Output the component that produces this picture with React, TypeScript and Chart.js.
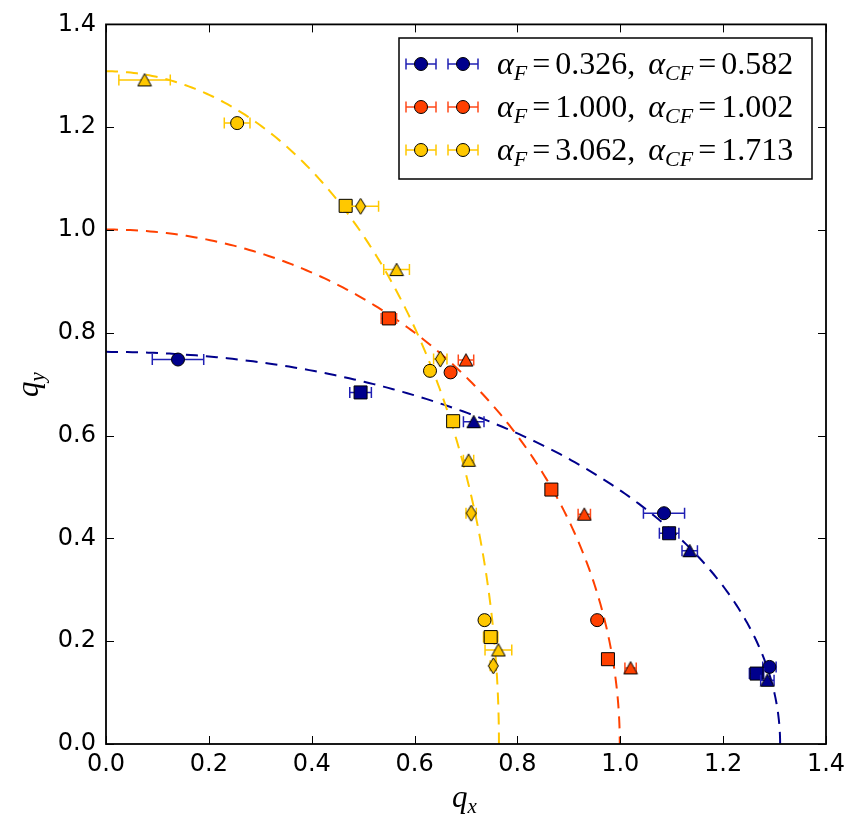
import React, { useEffect, useRef } from 'react';
import { Chart, registerables } from 'chart.js';

Chart.register(...registerables);

// Fit parameters shown in the legend, one entry per series
const ALPHA_F = [0.326, 1.0, 3.062];
const ALPHA_CF = [0.582, 1.002, 1.713];

const FILL_COLORS = ['#00008c', '#ff4000', '#ffc800'];
const ERR_COLORS = ['#2020b4', '#ff4a1a', '#ffc800'];

// Measurements: [qx, qy, xerr]
const blueCircles = [[0.140, 0.748, 0.050], [1.085, 0.449, 0.040], [1.290, 0.150, 0.013]];
const blueSquares = [[0.495, 0.684, 0.021], [1.095, 0.410, 0.019], [1.265, 0.137, 0.014]];
const blueTriangles = [[0.715, 0.627, 0.020], [1.135, 0.376, 0.015], [1.286, 0.124, 0.013]];

const redCircles = [[0.670, 0.723, 0.004], [0.955, 0.241, 0.004]];
const redSquares = [[0.550, 0.828, 0.015], [0.866, 0.495, 0.005], [0.976, 0.165, 0.005]];
const redTriangles = [[0.700, 0.747, 0.015], [0.930, 0.447, 0.012], [1.020, 0.148, 0.011]];

const yellowCircles = [[0.255, 1.208, 0.025], [0.630, 0.726, 0.008], [0.736, 0.241, 0.006]];
const yellowSquares = [[0.466, 1.047, 0.008], [0.675, 0.628, 0.008], [0.748, 0.208, 0.014]];
const yellowTriangles = [[0.075, 1.292, 0.050], [0.565, 0.923, 0.025], [0.705, 0.552, 0.010], [0.763, 0.183, 0.026]];
const yellowDiamonds = [[0.495, 1.046, 0.035], [0.650, 0.749, 0.013], [0.710, 0.449, 0.010], [0.753, 0.152, 0.006]];

const TICKS = [0, 0.2, 0.4, 0.6, 0.8, 1.0, 1.2, 1.4];

// Elliptic contour with aspect ratio alpha_CF and unit area product
function contour(acf: number) {
  const a = 1 / Math.sqrt(acf);
  const b = Math.sqrt(acf);
  const pts: { x: number; y: number }[] = [];
  const n = 200;
  for (let i = 0; i <= n; i++) {
    const t = (Math.PI / 2) * (i / n);
    pts.push({ x: a * Math.sin(t), y: b * Math.cos(t) });
  }
  return pts;
}

function makeMarker(shape: 'triangle' | 'diamond', fill: string): HTMLCanvasElement {
  const c = document.createElement('canvas');
  const w = shape === 'triangle' ? 16 : 13;
  const h = shape === 'triangle' ? 15 : 18;
  c.width = w;
  c.height = h;
  const g = c.getContext('2d')!;
  g.beginPath();
  if (shape === 'triangle') {
    g.moveTo(w / 2, 1.2);
    g.lineTo(w - 1.2, h - 1.5);
    g.lineTo(1.2, h - 1.5);
  } else {
    g.moveTo(w / 2, 1);
    g.lineTo(w - 1.5, h / 2);
    g.lineTo(w / 2, h - 1);
    g.lineTo(1.5, h / 2);
  }
  g.closePath();
  g.fillStyle = fill;
  g.fill();
  g.lineWidth = 1;
  g.strokeStyle = '#000';
  g.stroke();
  return c;
}

type Part = { t: string; it?: boolean; sub?: boolean; gap?: number };

function drawMath(ctx: CanvasRenderingContext2D, x: number, y: number, parts: Part[], size = 32, subSize = 22) {
  let cx = x;
  for (const p of parts) {
    cx += p.gap || 0;
    const s = p.sub ? subSize : size;
    ctx.font = `${p.it ? 'italic ' : ''}${s}px "Liberation Serif"`;
    ctx.fillText(p.t, cx, p.sub ? y + 6 : y);
    cx += ctx.measureText(p.t).width;
  }
}

function legendParts(af: number, acf: number): Part[] {
  return [
    { t: 'α', it: true },
    { t: 'F', it: true, sub: true },
    { t: '=', gap: 5 },
    { t: af.toFixed(3) + ',', gap: 5 },
    { t: 'α', it: true, gap: 13 },
    { t: 'CF', it: true, sub: true },
    { t: '=', gap: 5 },
    { t: acf.toFixed(3), gap: 5 },
  ];
}

export default function App() {
  const ref = useRef<HTMLCanvasElement>(null);

  useEffect(() => {
    document.body.style.margin = '0';
    const canvas = ref.current!;

    const groups = [
      [blueCircles, blueSquares, blueTriangles, null],
      [redCircles, redSquares, redTriangles, null],
      [yellowCircles, yellowSquares, yellowTriangles, yellowDiamonds],
    ];

    const drawList: any[] = [];
    ALPHA_CF.forEach((acf, i) => {
      drawList.push({
        type: 'line',
        data: contour(acf),
        borderColor: FILL_COLORS[i],
        borderWidth: 2,
        borderDash: [12, 8],
        pointRadius: 0,
        fill: false,
        tension: 0,
      });
    });
    groups.forEach((g, i) => {
      const fill = FILL_COLORS[i];
      const styles: any[] = [
        { pointStyle: 'circle', pointRadius: 6.5 },
        { pointStyle: 'rect', pointRadius: 9.2 },
        { pointStyle: makeMarker('triangle', fill), pointRadius: 8 },
        { pointStyle: makeMarker('diamond', fill), pointRadius: 8 },
      ];
      g.forEach((arr, k) => {
        if (!arr) return;
        drawList.push({
          type: 'scatter',
          data: arr.map(([x, y]) => ({ x, y })),
          xerr: arr.map((r) => r[2]),
          errColor: ERR_COLORS[i],
          backgroundColor: fill,
          borderColor: '#000',
          borderWidth: 1,
          pointStyle: styles[k].pointStyle,
          pointRadius: styles[k].pointRadius,
          pointHoverRadius: styles[k].pointRadius,
          showLine: false,
        });
      });
    });
    const datasets = drawList.map((d, i) => ({ ...d, order: 1000 - i }));

    const errorBars = {
      id: 'errorBars',
      beforeDatasetDraw(chart: any, args: any) {
        const ds = chart.data.datasets[args.index];
        if (!ds.xerr) return;
        const { ctx, chartArea: a } = chart;
        const xs = chart.scales.x;
        const ys = chart.scales.y;
        ctx.save();
        ctx.beginPath();
        ctx.rect(a.left, a.top, a.right - a.left, a.bottom - a.top);
        ctx.clip();
        ctx.strokeStyle = ds.errColor;
        ctx.lineWidth = 1.5;
        ds.data.forEach((p: any, j: number) => {
          const e = ds.xerr[j];
          const x1 = xs.getPixelForValue(p.x - e);
          const x2 = xs.getPixelForValue(p.x + e);
          const py = ys.getPixelForValue(p.y);
          ctx.beginPath();
          ctx.moveTo(x1, py);
          ctx.lineTo(x2, py);
          ctx.moveTo(x1, py - 5.5);
          ctx.lineTo(x1, py + 5.5);
          ctx.moveTo(x2, py - 5.5);
          ctx.lineTo(x2, py + 5.5);
          ctx.stroke();
        });
        ctx.restore();
      },
    };

    const frame = {
      id: 'frame',
      afterDatasetsDraw(chart: any) {
        const { ctx, chartArea: a } = chart;
        const xs = chart.scales.x;
        const ys = chart.scales.y;
        ctx.save();
        ctx.strokeStyle = '#000';
        ctx.lineWidth = 1;
        const L = 8;
        ctx.beginPath();
        TICKS.forEach((v) => {
          const px = Math.round(xs.getPixelForValue(v)) + 0.5;
          ctx.moveTo(px, a.bottom);
          ctx.lineTo(px, a.bottom - L);
          ctx.moveTo(px, a.top);
          ctx.lineTo(px, a.top + L);
          const py = Math.round(ys.getPixelForValue(v)) + 0.5;
          ctx.moveTo(a.left, py);
          ctx.lineTo(a.left + L, py);
          ctx.moveTo(a.right, py);
          ctx.lineTo(a.right - L, py);
        });
        ctx.stroke();
        ctx.lineWidth = 1.8;
        ctx.strokeRect(a.left, a.top, a.right - a.left, a.bottom - a.top);

        // axis titles
        ctx.fillStyle = '#000';
        ctx.textBaseline = 'alphabetic';
        ctx.textAlign = 'left';
        drawMath(ctx, 452, 807, [{ t: 'q', it: true }, { t: 'x', it: true, sub: true }], 31, 21);
        ctx.save();
        ctx.translate(38, 397);
        ctx.rotate(-Math.PI / 2);
        drawMath(ctx, 0, 0, [{ t: 'q', it: true }, { t: 'y', it: true, sub: true }], 31, 21);
        ctx.restore();
        ctx.restore();
      },
    };

    const legendBox = {
      id: 'legendBox',
      afterDraw(chart: any) {
        const { ctx } = chart;
        ctx.save();
        ctx.fillStyle = '#fff';
        ctx.fillRect(399, 38, 413, 141);
        ctx.strokeStyle = '#000';
        ctx.lineWidth = 1.5;
        ctx.strokeRect(399, 38, 413, 141);
        const rows = [64, 107, 150];
        rows.forEach((ry, i) => {
          [421, 463].forEach((mx) => {
            ctx.strokeStyle = ERR_COLORS[i];
            ctx.lineWidth = 1.5;
            ctx.beginPath();
            ctx.moveTo(mx - 15, ry);
            ctx.lineTo(mx + 15, ry);
            ctx.moveTo(mx - 15, ry - 5.5);
            ctx.lineTo(mx - 15, ry + 5.5);
            ctx.moveTo(mx + 15, ry - 5.5);
            ctx.lineTo(mx + 15, ry + 5.5);
            ctx.stroke();
            ctx.beginPath();
            ctx.arc(mx, ry, 6.5, 0, Math.PI * 2);
            ctx.fillStyle = FILL_COLORS[i];
            ctx.fill();
            ctx.strokeStyle = '#000';
            ctx.lineWidth = 1;
            ctx.stroke();
          });
          ctx.fillStyle = '#000';
          ctx.textBaseline = 'alphabetic';
          ctx.textAlign = 'left';
          drawMath(ctx, 497, ry + 10, legendParts(ALPHA_F[i], ALPHA_CF[i]));
        });
        ctx.restore();
      },
    };

    const tickFont = { family: '"DejaVu Sans"', size: 24 };
    const chart = new Chart(canvas, {
      type: 'scatter',
      data: { datasets },
      options: {
        responsive: false,
        animation: false,
        events: [],
        layout: { padding: { left: 0, top: 24, right: 35, bottom: 0 } },
        plugins: { legend: { display: false }, tooltip: { enabled: false }, title: { display: false } },
        scales: {
          x: {
            type: 'linear',
            min: 0,
            max: 1.4,
            border: { display: false },
            grid: { display: false, drawTicks: false },
            ticks: {
              stepSize: 0.2,
              autoSkip: false,
              maxRotation: 0,
              color: '#000',
              padding: 6,
              font: tickFont,
              callback: (v: any) => Number(v).toFixed(1),
            },
            afterFit: (s: any) => {
              s.height = 91;
            },
          },
          y: {
            type: 'linear',
            min: 0,
            max: 1.4,
            border: { display: false },
            grid: { display: false, drawTicks: false },
            ticks: {
              stepSize: 0.2,
              autoSkip: false,
              color: '#000',
              padding: 10,
              font: tickFont,
              callback: (v: any) => Number(v).toFixed(1),
            },
            afterFit: (s: any) => {
              s.width = 106;
            },
          },
        },
      } as any,
      plugins: [errorBars, frame, legendBox],
    });
    return () => chart.destroy();
  }, []);

  return <canvas ref={ref} width={861} height={835} style={{ display: 'block' }} />;
}
